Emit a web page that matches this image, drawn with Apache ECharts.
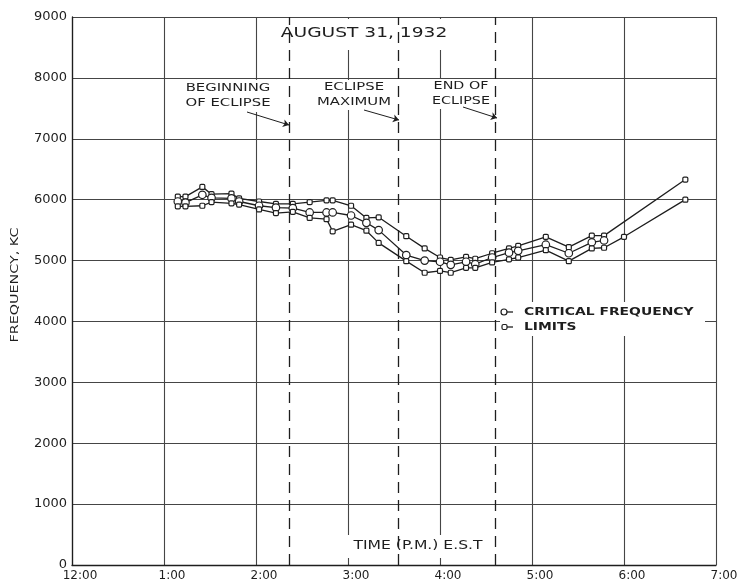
<!DOCTYPE html>
<html>
<head>
<meta charset="utf-8">
<style>
  html, body { margin: 0; padding: 0; background: #fff; }
  #chart { width: 743px; height: 582px; }
</style>
<script src="https://cdn.jsdelivr.net/npm/echarts@6/dist/echarts.min.js"></script>
</head>
<body>
<div id="chart"></div>
<script>
// Observation times, minutes after 12:00 noon (E.S.T.)
var times = [69, 74, 85, 91, 104, 109, 122, 133, 144, 155, 166, 170, 182, 192, 200,
             218, 230, 240, 247, 257, 263, 274, 285, 291, 309, 324, 339, 347, 360, 400];

// Upper limit of the observed critical frequency, kc
var upperLimit = [6050, 6050, 6210, 6090, 6100, 6020, 5970, 5930, 5930, 5960, 5990, 5990, 5900, 5700, 5710,
                  5400, 5200, 5050, 5010, 5060, 5030, 5120, 5200, 5240, 5390, 5220, 5410, 5410, null, 6330];

// Critical frequency, kc
var critical = [5970, 5950, 6080, 6030, 6020, 5970, 5900, 5870, 5860, 5790, 5790, 5790, 5740, 5620, 5500,
                5090, 5000, 4980, 4930, 4980, 4940, 5050, 5130, 5160, 5260, 5120, 5300, 5330, null, null];

// Lower limit, kc
var lowerLimit = [5890, 5890, 5900, 5960, 5940, 5920, 5840, 5780, 5800, 5700, 5680, 5480, 5590, 5490, 5290,
                  4990, 4800, 4830, 4800, 4880, 4880, 4970, 5020, 5050, 5170, 4990, 5200, 5210, 5390, 6000];

// Eclipse contacts, minutes after 12:00
var eclipseTimes = [142, 213, 276];

// Hour labels along the time axis
var hourLabels = ['12:00', '1:00', '2:00', '3:00', '4:00', '5:00', '6:00', '7:00'];

var INK = '#1e1e1e';
var GRID = '#454545';
var FONT = 'DejaVu Sans';

function pairs(xs, ys) {
  var out = [];
  for (var i = 0; i < xs.length; i++) out.push([xs[i], ys[i]]);
  return out;
}

// Wide hand-lettered style captions
function caption(x, y, text, size, stretch, z, align, weight) {
  return {
    type: 'text', z: z, x: x, y: y, scaleX: stretch,
    style: { text: text, fontFamily: FONT, fontSize: size, lineHeight: size + 4, fill: INK,
             fontWeight: weight || 'normal',
             align: align || 'center', verticalAlign: 'middle' }
  };
}
function whiteBox(x, y, w, h, z) {
  return { type: 'rect', z: z, shape: { x: x, y: y, width: w, height: h }, style: { fill: '#fff' } };
}

var chart = echarts.init(document.getElementById('chart'), null, { renderer: 'canvas' });

var dataLine = function (name, values, symbol, size) {
  return {
    name: name,
    type: 'line',
    z: 4,
    data: pairs(times, values),
    connectNulls: true,
    symbol: symbol,
    symbolSize: size,
    showAllSymbol: true,
    lineStyle: { color: INK, width: 1.3 },
    itemStyle: { color: '#fff', borderColor: INK, borderWidth: 1.2 },
    emphasis: { disabled: true },
    animation: false
  };
};

var option = {
  backgroundColor: '#fff',
  animation: false,
  grid: { left: 72, right: 27, top: 17, bottom: 17 },
  xAxis: {
    type: 'value',
    min: 0,
    max: 420,
    interval: 60,
    z: 0,
    axisLine: { show: true, lineStyle: { color: INK, width: 1.3 } },
    axisTick: { show: false },
    splitLine: { show: true, lineStyle: { color: GRID, width: 1.1 } },
    axisLabel: {
      margin: 5,
      padding: [0, 0, 0, 16],
      fontFamily: FONT,
      fontSize: 12,
      color: INK,
      showMaxLabel: true,
      showMinLabel: true,
      formatter: function (v) { return hourLabels[Math.round(v / 60)]; }
    }
  },
  yAxis: {
    type: 'value',
    min: 0,
    max: 9000,
    interval: 1000,
    z: 0,
    axisLine: { show: true, lineStyle: { color: INK, width: 1.3 } },
    axisTick: { show: false },
    splitLine: { show: true, lineStyle: { color: GRID, width: 1.1 } },
    axisLabel: {
      margin: 5, fontFamily: FONT, fontSize: 13, color: INK,
      formatter: function (v) { return String(v); }
    }
  },
  series: [
    {
      name: 'eclipse',
      type: 'line',
      data: [],
      z: 2,
      markLine: {
        silent: true,
        symbol: 'none',
        label: { show: false },
        lineStyle: { color: INK, type: [11, 7], width: 1.3 },
        data: eclipseTimes.map(function (t) { return { xAxis: t }; })
      }
    },
    {
      name: 'arrows',
      type: 'line',
      data: [],
      z: 4,
      markLine: {
        silent: true,
        symbol: ['none', 'arrow'],
        symbolSize: 6,
        label: { show: false },
        lineStyle: { color: INK, type: 'solid', width: 1 },
        data: [
          [{ x: 247, y: 112 }, { x: 289, y: 125 }],
          [{ x: 364, y: 110 }, { x: 399, y: 120 }],
          [{ x: 463, y: 107 }, { x: 497, y: 118 }]
        ]
      }
    },
    dataLine('LIMITS', upperLimit, 'roundRect', 5),
    dataLine('CRITICAL FREQUENCY', critical, 'circle', 7.5),
    dataLine('LIMITS', lowerLimit, 'roundRect', 5)
  ],
  graphic: [
    // heading
    whiteBox(273, 19, 184, 31, 3),
    caption(364, 33, 'AUGUST 31, 1932', 14, 1.33, 3),
    // contact labels
    whiteBox(172, 80, 112, 32, 3),
    caption(228, 96, 'BEGINNING\nOF ECLIPSE', 11, 1.35, 3),
    whiteBox(311, 80, 86, 30, 3),
    caption(354, 95, 'ECLIPSE\nMAXIMUM', 11, 1.35, 3),
    whiteBox(427, 79, 68, 30, 3),
    caption(461, 94, 'END OF\nECLIPSE', 11, 1.3, 3),
    // time axis caption
    whiteBox(340, 535, 156, 23, 1),
    caption(418, 546, 'TIME (P.M.) E.S.T', 12, 1.3, 1),
    // vertical axis caption
    {
      type: 'text', z: 3, x: 15, y: 285, rotation: Math.PI / 2, scaleX: 1.3,
      style: { text: 'FREQUENCY, KC', fontFamily: FONT, fontSize: 11, fill: INK,
               align: 'center', verticalAlign: 'middle' }
    },
    // key
    whiteBox(500, 302, 205, 34, 3),
    { type: 'line', z: 4, shape: { x1: 502, y1: 312, x2: 513, y2: 312 }, style: { stroke: INK, lineWidth: 1.3 } },
    { type: 'circle', z: 4, shape: { cx: 504, cy: 312, r: 3 }, style: { fill: '#fff', stroke: INK, lineWidth: 1.2 } },
    caption(524, 312, 'CRITICAL FREQUENCY', 10, 1.39, 4, 'left', 'bold'),
    { type: 'line', z: 4, shape: { x1: 502, y1: 327, x2: 513, y2: 327 }, style: { stroke: INK, lineWidth: 1.3 } },
    { type: 'rect', z: 4, shape: { x: 502, y: 324.5, width: 5, height: 5, r: 1.5 }, style: { fill: '#fff', stroke: INK, lineWidth: 1.2 } },
    caption(524, 327, 'LIMITS', 10, 1.39, 4, 'left', 'bold')
  ]
};

chart.setOption(option);
</script>
</body>
</html>
